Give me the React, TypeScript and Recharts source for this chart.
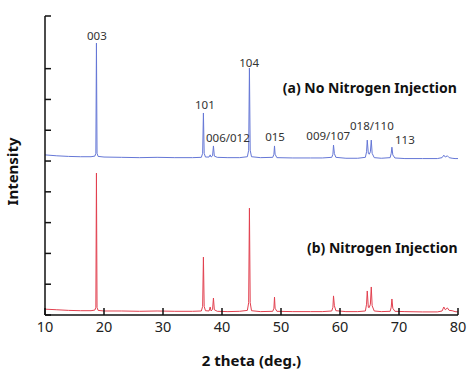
import React from 'react';
import { LineChart, Line, XAxis, YAxis, ReferenceDot, Label } from 'recharts';

const twoTheta = [
  10, 12, 14, 16, 17.8, 18.45, 18.62, 18.72, 18.82, 19.0, 20, 23, 26, 29, 32, 35,
  36.5, 36.72, 36.85, 36.98, 37.2, 37.8, 38.0, 38.15, 38.4, 38.55, 38.7, 39.2, 41, 43,
  44.3, 44.52, 44.65, 44.78, 45.0, 46.5, 48.6, 48.8, 48.9, 49.0, 49.3, 52, 55, 57,
  58.6, 58.8, 58.9, 59.05, 59.3, 61, 63, 64.3, 64.5, 64.62, 64.8, 64.95, 65.15, 65.3,
  65.45, 65.8, 67, 68.5, 68.68, 68.8, 68.95, 69.3, 71, 74, 76.5, 77.3, 77.6, 77.85,
  78.2, 78.5, 79, 79.5, 80,
];

const noNitrogen = [
  5.2, 5.17, 5.15, 5.14, 5.14, 5.16, 5.25, 8.83, 5.25, 5.15, 5.13, 5.12, 5.11, 5.12, 5.11, 5.11,
  5.12, 5.25, 6.56, 5.25, 5.13, 5.13, 5.2, 5.13, 5.17, 5.49, 5.16, 5.12, 5.11, 5.11,
  5.14, 5.35, 8.02, 5.35, 5.14, 5.11, 5.12, 5.22, 5.49, 5.22, 5.11, 5.1, 5.1, 5.1,
  5.12, 5.22, 5.52, 5.24, 5.12, 5.09, 5.09, 5.12, 5.3, 5.68, 5.25, 5.22, 5.3, 5.68,
  5.25, 5.11, 5.09, 5.11, 5.25, 5.45, 5.2, 5.1, 5.08, 5.08, 5.08, 5.11, 5.19, 5.13,
  5.17, 5.11, 5.09, 5.08, 5.08,
];

const nitrogen = [
  0.19, 0.17, 0.15, 0.14, 0.14, 0.16, 0.25, 4.61, 0.24, 0.15, 0.13, 0.13, 0.12, 0.13, 0.12, 0.12,
  0.13, 0.28, 1.88, 0.28, 0.14, 0.13, 0.26, 0.13, 0.18, 0.55, 0.17, 0.12, 0.11, 0.12,
  0.15, 0.4, 3.47, 0.4, 0.14, 0.11, 0.12, 0.22, 0.58, 0.22, 0.12, 0.11, 0.11, 0.11,
  0.13, 0.25, 0.62, 0.3, 0.14, 0.11, 0.11, 0.13, 0.35, 0.78, 0.25, 0.24, 0.35, 0.91,
  0.3, 0.13, 0.11, 0.12, 0.25, 0.52, 0.22, 0.12, 0.11, 0.1, 0.1, 0.13, 0.26, 0.17,
  0.23, 0.15, 0.14, 0.11, 0.1,
];

const xTicks = [10, 20, 30, 40, 50, 60, 70, 80];
const yTicks = [0, 1, 2, 3, 4, 5, 6, 7, 8, 9, 9.71];

const peakNames = ['003', '101', '006/012', '104', '015', '009/107', '018/110', '113'];
const peakLabelX = [18.8, 37.1, 41.0, 44.6, 49.0, 58.0, 65.4, 71.0];
const peakLabelY = [9.09, 6.85, 5.78, 8.21, 5.81, 5.84, 6.14, 5.71];

const seriesNames = ['(a) No Nitrogen Injection', '(b) Nitrogen Injection'];
const seriesLabelX = [50.3, 54.4];
const seriesLabelY = [7.4, 2.18];

const blueData = twoTheta.map((x, i) => ({ x, v: noNitrogen[i] }));
const redData = twoTheta.map((x, i) => ({ x, v: nitrogen[i] }));

const FONT = '"Noto Sans", "Open Sans", sans-serif';

const EmptyTick = () => <g />;

export default function App() {
  return (
    <div style={{ position: 'absolute', left: 0, top: 0, width: 475, height: 374, background: '#fff' }}>
      <LineChart width={475} height={374} margin={{ top: 16, right: 17, bottom: 0, left: 0 }}>
        <XAxis
          type="number"
          dataKey="x"
          domain={[10, 80]}
          ticks={xTicks}
          allowDataOverflow
          height={59}
          tickSize={-7}
          tickMargin={14}
          stroke="#111"
          strokeWidth={1.5}
          tick={{ fill: '#222', fontSize: 14.5, fontFamily: FONT }}
        >
          <Label
            value="2 theta (deg.)"
            position="insideBottom"
            offset={8}
            style={{ fill: '#111', fontSize: 15, fontWeight: 700, fontFamily: FONT }}
          />
        </XAxis>
        <YAxis
          type="number"
          domain={[0, 9.71]}
          ticks={yTicks}
          allowDataOverflow
          width={45}
          tickSize={-6}
          tick={EmptyTick}
          stroke="#111"
          strokeWidth={1.5}
        >
          <Label
            content={(props: any) => {
              const vb = props.viewBox || {};
              const cx = vb.x + 12;
              const cy = vb.y + vb.height / 2 + 6;
              return (
                <text
                  x={cx}
                  y={cy}
                  transform={`rotate(-90 ${cx} ${cy})`}
                  textAnchor="middle"
                  dominantBaseline="central"
                  style={{ fill: '#111', fontSize: 15, fontWeight: 700, fontFamily: FONT }}
                >
                  Intensity
                </text>
              );
            }}
          />
        </YAxis>
        <Line
          data={blueData}
          dataKey="v"
          type="linear"
          stroke="#6577d6"
          strokeWidth={1}
          dot={false}
          isAnimationActive={false}
        />
        <Line
          data={redData}
          dataKey="v"
          type="linear"
          stroke="#e2404f"
          strokeWidth={1}
          dot={false}
          isAnimationActive={false}
        />
        {peakNames.map((name, i) => (
          <ReferenceDot
            key={name}
            x={peakLabelX[i]}
            y={peakLabelY[i]}
            r={0}
            ifOverflow="visible"
            shape={(p: any) => (
              <text
                x={p.cx}
                y={p.cy}
                textAnchor="middle"
                dominantBaseline="central"
                style={{ fill: '#333', fontSize: 11.5, fontFamily: FONT }}
              >
                {name}
              </text>
            )}
          />
        ))}
        {seriesNames.map((name, i) => (
          <ReferenceDot
            key={name}
            x={seriesLabelX[i]}
            y={seriesLabelY[i]}
            r={0}
            ifOverflow="visible"
            shape={(p: any) => (
              <text
                x={p.cx}
                y={p.cy}
                textAnchor="start"
                dominantBaseline="central"
                style={{ fill: '#111', fontSize: 14, fontWeight: 700, fontFamily: FONT }}
              >
                {name}
              </text>
            )}
          />
        ))}
      </LineChart>
    </div>
  );
}
